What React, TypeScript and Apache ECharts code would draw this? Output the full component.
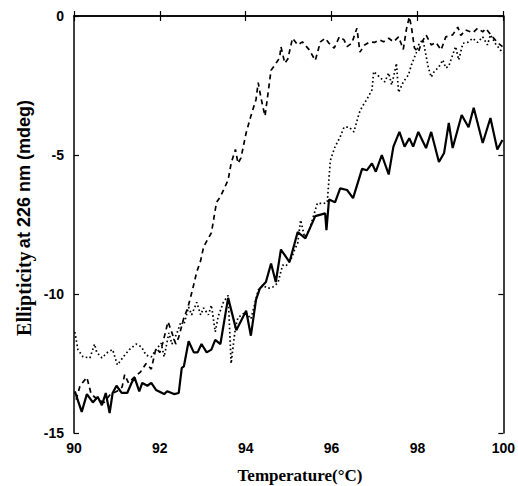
import React, { useEffect, useRef } from "react";
import * as echarts from "echarts";

// Temperature (°C) vs ellipticity (mdeg) — three traces
const solidData: [number, number][] = [
  [90.02, -13.5], [90.18, -14.24], [90.3, -13.6], [90.44, -13.9], [90.55, -13.7], [90.65, -14.0],
  [90.74, -13.56], [90.83, -14.28], [90.9, -13.56], [90.99, -13.3], [91.11, -13.56], [91.24, -13.56],
  [91.34, -13.2], [91.41, -13.0], [91.52, -13.5], [91.59, -13.2], [91.71, -13.3], [91.8, -13.2],
  [91.91, -13.45], [92.1, -13.6], [92.17, -13.5], [92.33, -13.6], [92.44, -13.56], [92.51, -12.66],
  [92.56, -12.6], [92.67, -11.7], [92.79, -12.1], [92.88, -12.1], [92.97, -11.8], [93.09, -12.1],
  [93.2, -12.0], [93.29, -11.65], [93.41, -11.8], [93.59, -10.14], [93.78, -11.3], [94.01, -10.6],
  [94.12, -11.5], [94.24, -10.2], [94.33, -9.8], [94.47, -9.57], [94.59, -8.9], [94.7, -9.57],
  [94.82, -8.4], [95.02, -8.85], [95.21, -7.77], [95.39, -8.0], [95.62, -7.2], [95.85, -7.1],
  [95.88, -7.7], [95.94, -6.6], [96.08, -6.7], [96.2, -6.2], [96.36, -6.26], [96.5, -6.55],
  [96.71, -5.5], [96.82, -5.55], [96.94, -5.3], [97.03, -5.6], [97.17, -5.0], [97.33, -5.7],
  [97.44, -4.7], [97.58, -4.17], [97.7, -4.7], [97.81, -4.4], [97.9, -4.7], [98.02, -4.17],
  [98.2, -4.75], [98.32, -4.17], [98.5, -5.25], [98.62, -4.93], [98.73, -3.85], [98.82, -4.75],
  [99.03, -3.56], [99.19, -4.0], [99.31, -3.3], [99.52, -4.57], [99.7, -3.67], [99.86, -4.8],
  [99.98, -4.46],
];

const dashedData: [number, number][] = [
  [90.05, -13.8], [90.14, -13.3], [90.3, -13.0], [90.4, -13.6], [90.55, -13.8], [90.7, -13.9],
  [90.85, -13.6], [91.0, -13.5], [91.12, -13.35], [91.18, -12.9], [91.27, -13.2], [91.4, -13.0],
  [91.55, -12.8], [91.68, -12.5], [91.8, -12.7], [91.91, -11.95], [92.0, -12.1], [92.07, -11.75],
  [92.19, -11.0], [92.26, -11.3], [92.37, -11.8], [92.44, -11.55], [92.56, -10.85], [92.65, -10.5],
  [92.76, -9.85], [92.86, -9.2], [92.95, -8.8], [93.02, -8.3], [93.2, -7.8], [93.32, -6.7],
  [93.41, -6.5], [93.59, -5.9], [93.66, -5.3], [93.76, -4.8], [93.82, -5.3], [93.89, -5.1],
  [94.01, -4.2], [94.12, -3.6], [94.24, -3.0], [94.29, -2.4], [94.35, -2.9], [94.4, -3.27],
  [94.45, -3.6], [94.52, -2.77], [94.59, -1.95], [94.68, -1.76], [94.79, -1.5], [94.82, -1.1],
  [94.91, -1.7], [94.98, -1.55], [95.09, -0.8], [95.21, -1.04], [95.32, -0.93], [95.48, -1.22],
  [95.62, -1.6], [95.74, -0.93], [95.85, -0.8], [95.94, -0.98], [96.06, -1.16], [96.18, -0.75],
  [96.29, -0.86], [96.36, -1.1], [96.47, -0.98], [96.59, -0.44], [96.66, -1.3], [96.77, -1.04],
  [96.89, -0.93], [97.0, -0.95], [97.12, -0.86], [97.21, -0.93], [97.33, -0.8], [97.44, -0.93],
  [97.56, -0.75], [97.67, -1.2], [97.74, -0.5], [97.81, -0.03], [97.86, -0.4], [97.93, -1.15],
  [98.02, -1.3], [98.09, -0.98], [98.2, -0.68], [98.32, -1.04], [98.43, -0.95], [98.55, -1.22],
  [98.66, -0.75], [98.82, -0.68], [98.94, -0.4], [99.01, -0.7], [99.12, -0.5], [99.29, -0.6],
  [99.4, -0.44], [99.52, -0.57], [99.59, -0.45], [99.75, -0.75], [99.88, -0.98], [99.98, -1.1],
];

const dottedData: [number, number][] = [
  [90.02, -11.37], [90.09, -12.0], [90.21, -12.26], [90.37, -12.3], [90.48, -11.8], [90.53, -12.1],
  [90.65, -12.3], [90.78, -12.1], [90.9, -12.0], [91.01, -12.55], [91.18, -12.2], [91.29, -12.0],
  [91.45, -11.8], [91.57, -11.9], [91.68, -12.2], [91.8, -12.26], [91.91, -12.0], [92.03, -11.77],
  [92.1, -12.26], [92.21, -11.4], [92.28, -11.8], [92.4, -11.4], [92.49, -11.0], [92.56, -11.1],
  [92.67, -10.47], [92.74, -10.75], [92.86, -10.3], [92.95, -10.75], [93.02, -10.5], [93.13, -10.75],
  [93.2, -10.4], [93.29, -11.36], [93.36, -10.8], [93.48, -10.3], [93.59, -10.05], [93.66, -12.5],
  [93.76, -11.2], [93.82, -10.85], [93.99, -10.65], [94.12, -10.9], [94.22, -10.3], [94.29, -9.86],
  [94.4, -9.7], [94.52, -9.8], [94.63, -9.75], [94.75, -9.6], [94.86, -8.96], [94.93, -9.0],
  [95.05, -8.78], [95.14, -8.4], [95.21, -8.17], [95.28, -7.34], [95.37, -7.95], [95.48, -7.7],
  [95.67, -6.73], [95.81, -6.75], [95.9, -6.7], [95.97, -5.2], [96.08, -4.7], [96.2, -4.35],
  [96.29, -4.0], [96.41, -4.0], [96.52, -4.17], [96.64, -3.5], [96.71, -3.27], [96.82, -3.0],
  [96.94, -2.66], [96.98, -2.0], [97.12, -2.2], [97.24, -2.37], [97.33, -2.05], [97.4, -2.48],
  [97.47, -2.0], [97.51, -1.7], [97.56, -2.75], [97.67, -2.37], [97.79, -2.12], [97.86, -1.76],
  [97.97, -1.33], [98.04, -0.98], [98.13, -0.86], [98.25, -1.83], [98.32, -2.2], [98.39, -2.0],
  [98.5, -1.83], [98.59, -1.58], [98.66, -1.87], [98.73, -1.8], [98.82, -1.4], [98.89, -1.1],
  [98.96, -1.58], [99.06, -0.98], [99.17, -0.95], [99.29, -0.8], [99.4, -0.95], [99.52, -0.75],
  [99.63, -1.04], [99.7, -0.68], [99.82, -1.0], [99.93, -1.22], [100.0, -1.33],
];

const xMin = 90, xMax = 100, xStep = 2;
const yMin = -15, yMax = 0, yStep = 5;
const xTitle = "Temperature(°C)";
const yTitleA = "Ellipticity";
const yTitleB = "at 226 nm (mdeg)";

const sans = "'Liberation Sans', Arial, sans-serif";
const serif = "'Liberation Serif', 'Times New Roman', serif";

export default function App() {
  const ref = useRef<HTMLDivElement>(null);
  useEffect(() => {
    if (!ref.current) return;
    const chart = echarts.init(ref.current, undefined, { renderer: "svg" });
    const axisLine = { show: true, lineStyle: { color: "#000", width: 1.5 } };
    const axisTick = { show: true, inside: true, length: 5, lineStyle: { color: "#000", width: 1.2 } };
    const label = { color: "#000", fontFamily: sans, fontWeight: "bold", fontSize: 14 };
    const option: any = {
      animation: false,
      backgroundColor: "#fff",
      grid: { left: 74, right: 10, top: 16, bottom: 53, containLabel: false },
      xAxis: [
        {
          type: "value", min: xMin, max: xMax, interval: xStep, position: "bottom",
          axisLine, axisTick, splitLine: { show: false },
          axisLabel: { ...label, margin: 8 },
        },
        {
          type: "value", min: xMin, max: xMax, interval: xStep, position: "top",
          axisLine, axisTick, splitLine: { show: false }, axisLabel: { show: false },
        },
      ],
      yAxis: [
        {
          type: "value", min: yMin, max: yMax, interval: yStep, position: "left",
          axisLine, axisTick, splitLine: { show: false },
          axisLabel: { ...label, margin: 10 },
        },
        {
          type: "value", min: yMin, max: yMax, interval: yStep, position: "right",
          axisLine, axisTick, splitLine: { show: false }, axisLabel: { show: false },
        },
      ],
      series: [
        {
          type: "line", data: solidData, showSymbol: false, xAxisIndex: 0, yAxisIndex: 0,
          lineStyle: { color: "#000", width: 2.2 },
        },
        {
          type: "line", data: dashedData, showSymbol: false, xAxisIndex: 0, yAxisIndex: 0,
          lineStyle: { color: "#000", width: 1.7, type: [5, 4] },
        },
        {
          type: "line", data: dottedData, showSymbol: false, xAxisIndex: 0, yAxisIndex: 0,
          lineStyle: { color: "#000", width: 1.7, type: [1.6, 2.6] },
        },
      ],
      graphic: [
        {
          type: "text", x: 300, y: 475,
          style: {
            text: xTitle, fill: "#000", font: `bold 17px ${serif}`,
            textAlign: "center", textVerticalAlign: "middle",
          },
        },
        {
          type: "text", x: 24, y: 218, rotation: Math.PI / 2,
          style: {
            text: `{a|${yTitleA}} {b|${yTitleB}}`, fill: "#000",
            textAlign: "center", textVerticalAlign: "middle",
            rich: {
              a: { fontFamily: serif, fontWeight: "bold", fontSize: 20, fill: "#000" },
              b: { fontFamily: sans, fontWeight: "bold", fontSize: 18, fill: "#000" },
            },
          },
        },
      ],
    };
    chart.setOption(option);
    return () => chart.dispose();
  }, []);
  return (
    <div
      ref={ref}
      style={{ position: "fixed", left: 0, top: 0, width: 518, height: 486, background: "#fff" }}
    />
  );
}
